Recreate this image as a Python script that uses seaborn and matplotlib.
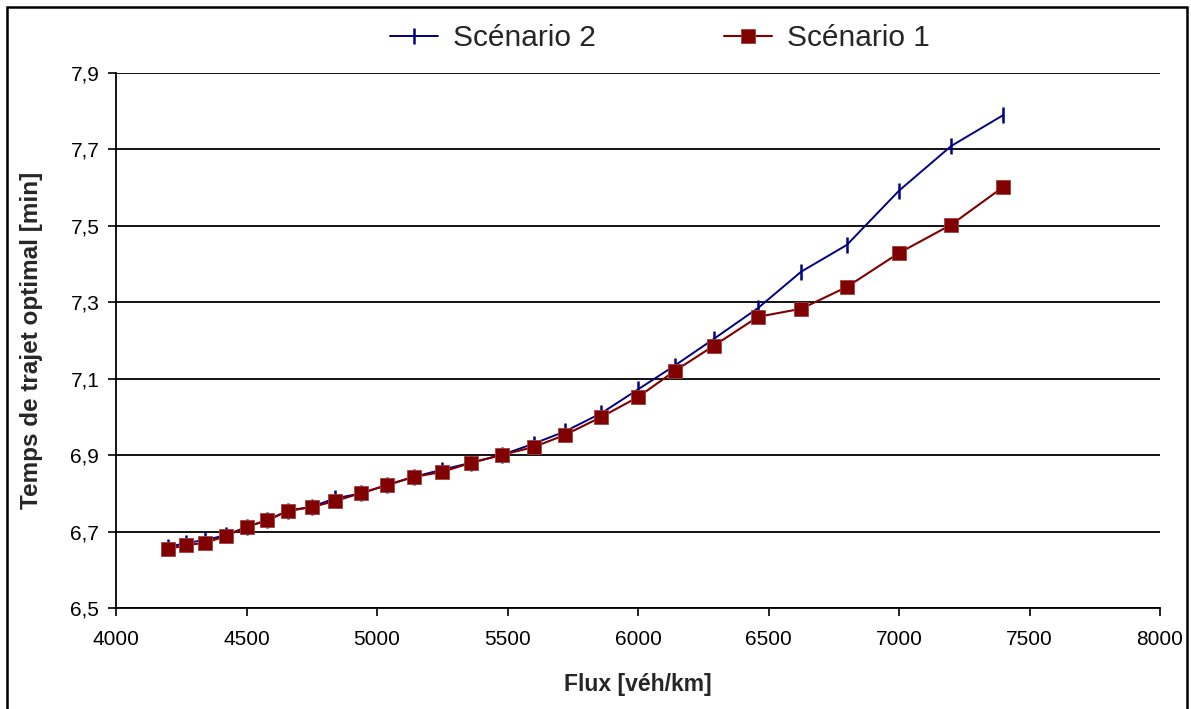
import matplotlib
matplotlib.use("Agg")
import matplotlib.pyplot as plt
import matplotlib.patches as mpatches
from matplotlib.ticker import FuncFormatter
import seaborn as sns
import pandas as pd

# Traffic flow (veh/km) at each simulated point
flux = [4200, 4270, 4340, 4420, 4500, 4580, 4660, 4750, 4840, 4940,
        5040, 5140, 5250, 5360, 5480, 5600, 5720, 5860, 6000, 6140,
        6290, 6460, 6625, 6800, 7000, 7200, 7400]

# Optimal travel time (min), scenario 2
temps_s2 = [6.660, 6.670, 6.678, 6.690, 6.712, 6.730, 6.755, 6.765, 6.787, 6.800,
            6.822, 6.843, 6.862, 6.880, 6.901, 6.930, 6.962, 7.010, 7.072, 7.134,
            7.204, 7.285, 7.380, 7.450, 7.592, 7.709, 7.790]

# Optimal travel time (min), scenario 1
temps_s1 = [6.654, 6.665, 6.670, 6.688, 6.712, 6.730, 6.754, 6.764, 6.780, 6.801,
            6.822, 6.843, 6.856, 6.880, 6.901, 6.921, 6.953, 7.000, 7.052, 7.120,
            7.186, 7.262, 7.283, 7.340, 7.429, 7.503, 7.602]

series_names = ["Scénario 2", "Scénario 1"]
x_ticks = [4000, 4500, 5000, 5500, 6000, 6500, 7000, 7500, 8000]
y_ticks = [6.5, 6.7, 6.9, 7.1, 7.3, 7.5, 7.7, 7.9]

sns.set_theme(style="white")
plt.rcParams["font.family"] = ["Liberation Sans", "DejaVu Sans"]

fig = plt.figure(figsize=(11.91, 7.09), dpi=100)
ax = fig.add_axes([116 / 1191, 1 - 608 / 709, (1160 - 116) / 1191, (608 - 73) / 709])

df2 = pd.DataFrame({"flux": flux, "temps": temps_s2})
df1 = pd.DataFrame({"flux": flux, "temps": temps_s1})

sns.lineplot(data=df2, x="flux", y="temps", ax=ax, color="#000080",
             linewidth=1.4, marker="|", markersize=11, markeredgewidth=1.8,
             markeredgecolor="#000080", label=series_names[0], zorder=3)
sns.lineplot(data=df1, x="flux", y="temps", ax=ax, color="#800000",
             linewidth=1.5, marker="s", markersize=10.5, markeredgewidth=0.6,
             markerfacecolor="#800000", markeredgecolor="#a04040",
             label=series_names[1], zorder=4)

ax.set_xlim(4000, 8000)
ax.set_ylim(6.5, 7.9)
ax.set_xticks(x_ticks)
ax.set_yticks(y_ticks)
ax.yaxis.set_major_formatter(FuncFormatter(lambda v, p: f"{v:.1f}".replace(".", ",")))
ax.xaxis.set_major_formatter(FuncFormatter(lambda v, p: f"{int(round(v))}"))

ax.grid(axis="y", color="black", linewidth=1.3)
ax.grid(axis="x", visible=False)
ax.set_axisbelow(True)
for side in ["top", "right"]:
    ax.spines[side].set_visible(False)
for side in ["left", "bottom"]:
    ax.spines[side].set_color("black")
    ax.spines[side].set_linewidth(1.3)

ax.tick_params(axis="both", which="major", direction="out", length=6, width=1.2,
               color="black", labelsize=15, labelcolor="black", bottom=True, left=True)
ax.tick_params(axis="x", pad=10)
ax.tick_params(axis="y", pad=6)

ax.set_xlabel("Flux [véh/km]", fontsize=16.5, fontweight="bold", labelpad=17)
ax.set_ylabel("Temps de trajet optimal [min]", fontsize=17.5, fontweight="bold", labelpad=20)

handles, labels = ax.get_legend_handles_labels()
ax.get_legend().remove()
fig.legend(handles, labels, loc="center", bbox_to_anchor=(660 / 1191, 1 - 38 / 709),
           ncol=2, frameon=False, fontsize=21.5, handlelength=1.6, handletextpad=0.5,
           columnspacing=4.3, borderaxespad=0)

# outer frame around the whole figure
frame = mpatches.Rectangle((7 / 1191, -0.05), (1187 - 7) / 1191, 1.05 - 7 / 709,
                           transform=fig.transFigure, fill=False,
                           edgecolor="black", linewidth=1.8)
fig.patches.append(frame)

fig.savefig("out.png", dpi=100)
